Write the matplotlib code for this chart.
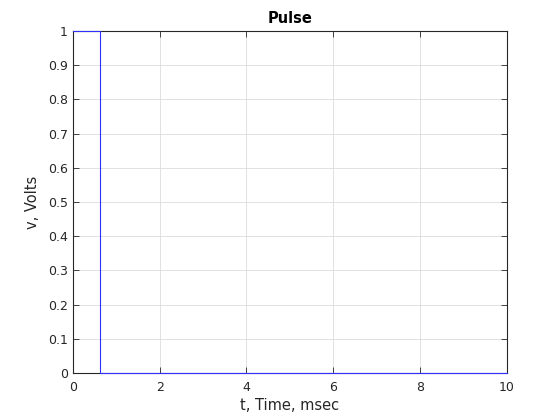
import numpy as np
import matplotlib
matplotlib.use("Agg")
import matplotlib.pyplot as plt

# pulse data (msec, volts)
t = [0.0, 0.625, 0.625, 10.0]
v = [1.0, 1.0, 0.0, 0.0]
xticks = [0, 2, 4, 6, 8, 10]
yticks = [0, 0.1, 0.2, 0.3, 0.4, 0.5, 0.6, 0.7, 0.8, 0.9, 1]
yticklabels = ['0', '0.1', '0.2', '0.3', '0.4', '0.5', '0.6', '0.7', '0.8', '0.9', '1']

fig = plt.figure(figsize=(5.6, 4.2), dpi=100)
ax = fig.add_axes([0.13, 0.112, 0.775, 0.814])
ax.plot(t, v, color='#3030ff', lw=0.8, clip_on=False, zorder=5)
ax.set_xlim(0, 10)
ax.set_ylim(0, 1)
ax.set_xticks(xticks)
ax.set_yticks(yticks)
ax.set_yticklabels(yticklabels)
ax.grid(True, color='#dcdcdc', lw=0.6)
ax.set_axisbelow(True)
ax.tick_params(direction='in', top=True, right=True, labelsize=9, length=4, width=0.6, colors='#262626')
ax.tick_params(axis='x', pad=6)
for s in ax.spines.values():
    s.set_linewidth(0.8)
    s.set_color('#262626')
    s.set_zorder(2)
ax.set_xlabel('t, Time, msec', fontsize=10.5, color='#262626', labelpad=3)
ax.set_ylabel('v, Volts', fontsize=10.5, color='#262626', labelpad=6)
ax.set_title('Pulse', fontsize=10.5, fontweight='bold', pad=6)
fig.savefig('out.png', dpi=100)
